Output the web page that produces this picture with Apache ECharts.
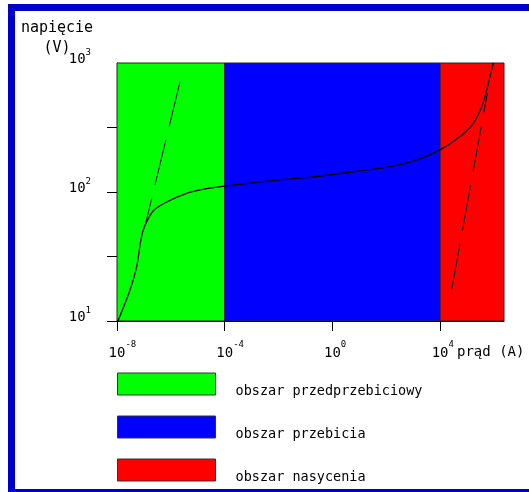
<!DOCTYPE html>
<html><head><meta charset="utf-8">
<script src="https://cdn.jsdelivr.net/npm/echarts@6/dist/echarts.min.js"></script>
<style>html,body{margin:0;padding:0;background:#fff}#c{width:529px;height:492px}</style>
</head><body><div id="c"></div>
<script>
// ---- data (current in A, voltage in V) ----
const regionNames = ['obszar przedprzebiciowy', 'obszar przebicia', 'obszar nasycenia'];
const regionColors = ['#00ff00', '#0000ff', '#ff0000'];
const regionFrom = [1e-8, 1e-4, 1e4];
const regionTo = [1e-4, 1e4, 2.36e6];
const currentRange = [1e-8, 2.36e6];
const voltageRange = [10, 1000];

const curveCurrent = [1e-8, 1.12e-8, 3.04e-8, 5.40e-8, 7.14e-8, 9.02e-8, 1.27e-7, 2.23e-7, 7.02e-7, 3.88e-6, 2.14e-5, 1.03e-4,
  4.81e-3, 0.346, 10.6, 183, 1550, 9910, 5.48e4, 1.71e5, 3.51e5, 5.38e5, 7.13e5, 9.46e5];
const curveVoltage = [10, 10.2, 17.4, 26.4, 38.8, 49.2, 58.9, 71.6, 83.6, 97.7, 106, 111,
  122, 133, 146, 159, 179, 212, 269, 341, 458, 618, 783, 1000];

const dashLeftCurrent = [2.19e-6, 1.16e-7];
const dashLeftVoltage = [716, 57.1];
const dashRightCurrent = [2.70e4, 5.66e5];
const dashRightVoltage = [17.6, 582];

const xTickValues = [1e-8, 1e-4, 1, 1e4];
const yTickValues = [10, 31.6, 100, 316];
const yLabelValues = [10, 100, 1000];

const xName = 'prąd (A)';
const yName = 'napięcie\n(V)';

// ---- build ----
const lg = v => Math.log10(v);
const pairs = (xs, ys) => xs.map((x, i) => [lg(x), lg(ys[i])]);
const FONT = 'DejaVu Sans Mono';
const yMinE = lg(voltageRange[0]), yMaxE = lg(voltageRange[1]);

const rich = {
  bs: { fontFamily: FONT, fontSize: 14, lineHeight: 6, color: '#000' },
  b:  { fontFamily: FONT, fontSize: 14, lineHeight: 11, color: '#000' },
  by: { fontFamily: FONT, fontSize: 14, lineHeight: 7, color: '#000' },
  s:  { fontFamily: FONT, fontSize: 9, lineHeight: 6, color: '#000' },
  h:  { fontFamily: FONT, fontSize: 9, lineHeight: 6, color: '#000' }
};
const expOf = v => String(Math.round(v));
const sp = n => ' '.repeat(n);

const regionSeries = regionNames.map((name, i) => ({
  name,
  type: 'custom',
  z: 1,
  itemStyle: { color: regionColors[i] },
  encode: { x: [0, 1] },
  data: [[lg(regionFrom[i]), lg(regionTo[i])]],
  renderItem: (params, api) => {
    const p0 = api.coord([api.value(0), yMaxE]);
    const p1 = api.coord([api.value(1), yMinE]);
    return {
      type: 'rect',
      shape: { x: p0[0], y: p0[1], width: p1[0] - p0[0], height: p1[1] - p0[1] },
      style: { fill: api.visual('color'), stroke: '#222', lineWidth: 1 }
    };
  }
}));

const chart = echarts.init(document.getElementById('c'));
chart.setOption({
  animation: false,
  backgroundColor: '#fff',
  graphic: [{
    type: 'rect', silent: true, z: 100,
    shape: { x: 11.5, y: 7.5, width: 600, height: 485 },
    style: { fill: 'none', stroke: '#0000cc', lineWidth: 7 }
  }],
  grid: { left: 117, top: 63, width: 387, height: 258 },
  legend: {
    data: regionNames,
    orient: 'vertical',
    left: 117, top: 370,
    padding: 0,
    icon: 'rect',
    itemWidth: 98, itemHeight: 22, itemGap: 15,
    selectedMode: false,
    formatter: name => '\n' + name,
    itemStyle: { borderColor: '#333', borderWidth: 1 },
    textStyle: { fontFamily: FONT, fontSize: 13.5, lineHeight: 14, color: '#000', padding: [0, 0, 0, 15] }
  },
  xAxis: {
    type: 'value',
    min: lg(currentRange[0]), max: lg(currentRange[1]),
    name: xName, nameLocation: 'end', nameGap: -47, nameMoveOverlap: false,
    nameTextStyle: { fontFamily: FONT, fontSize: 14, color: '#000', verticalAlign: 'top', lineHeight: 62 },
    axisLine: { show: true, onZero: false, lineStyle: { color: '#000', width: 1 } },
    axisTick: { show: true, customValues: xTickValues.map(lg), length: 10, lineStyle: { color: '#000' } },
    axisLabel: {
      customValues: xTickValues.map(lg), margin: 21,
      formatter: v => {
        const e = expOf(v), n = e.length;
        return `{h|${sp(n)}}{bs|${sp(2)}}{s|${e}}\n{h|${sp(n)}}{b|10}{h|${sp(n)}}`;
      },
      rich
    },
    splitLine: { show: false }
  },
  yAxis: {
    type: 'value',
    min: yMinE, max: yMaxE,
    name: yName, nameLocation: 'end', nameGap: 5, nameMoveOverlap: false,
    nameTextStyle: { fontFamily: FONT, fontSize: 15, lineHeight: 20, color: '#000', align: 'center', verticalAlign: 'bottom', padding: [0, 120, 0, 0] },
    axisLine: { show: true, onZero: false, lineStyle: { color: '#000', width: 1 } },
    axisTick: { show: true, customValues: yTickValues.map(lg), length: 10, lineStyle: { color: '#000' } },
    axisLabel: {
      customValues: yLabelValues.map(lg), margin: 26, verticalAlign: 'bottom',
      formatter: v => {
        const e = expOf(v), n = e.length;
        return `{bs|${sp(2)}}{s|${e}}\n{by|10}{h|${sp(n)}}`;
      },
      rich
    },
    splitLine: { show: false }
  },
  series: [
    ...regionSeries,
    { type: 'line', z: 5, data: pairs(curveCurrent, curveVoltage), showSymbol: false, smooth: 0.25,
      lineStyle: { color: '#000', width: 1.3 } },
    { type: 'line', z: 5, data: pairs(dashLeftCurrent, dashLeftVoltage), showSymbol: false,
      lineStyle: { color: '#000', width: 1, type: [46, 14] } },
    { type: 'line', z: 5, data: pairs(dashRightCurrent, dashRightVoltage), showSymbol: false,
      lineStyle: { color: '#000', width: 1, type: [46, 14] } }
  ]
});
</script></body></html>
